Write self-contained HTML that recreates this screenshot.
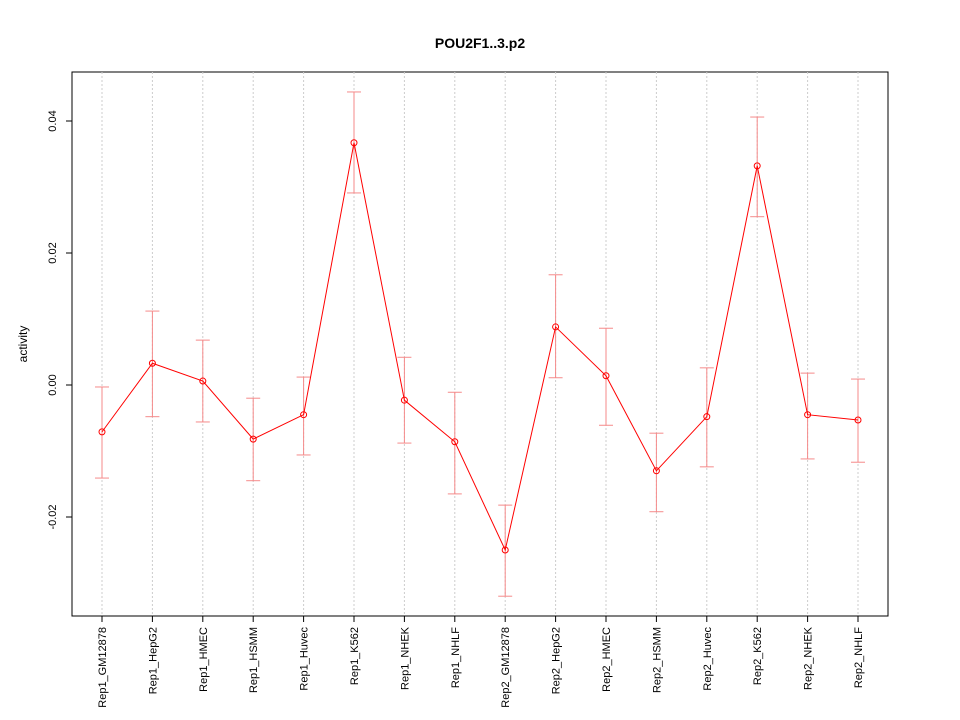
<!DOCTYPE html>
<html><head><meta charset="utf-8"><style>
body{margin:0;background:#fff;}
svg{display:block;font-family:"Liberation Sans",sans-serif;}
</style></head><body>
<svg id="chart" width="960" height="720">
<rect x="0" y="0" width="960" height="720" fill="#fff"/>
<text x="480" y="48" text-anchor="middle" font-size="14" font-weight="bold">POU2F1..3.p2</text>
<text transform="translate(27,344) rotate(-90)" text-anchor="middle" font-size="12">activity</text>
<rect x="72" y="72" width="816" height="544" fill="none" stroke="#000"/>
<g id="grid"></g><g id="yaxis"></g><g id="xaxis"></g><g id="bars"></g><g id="series"></g>
</svg>
<script>
const categories=["Rep1_GM12878","Rep1_HepG2","Rep1_HMEC","Rep1_HSMM","Rep1_Huvec","Rep1_K562","Rep1_NHEK","Rep1_NHLF","Rep2_GM12878","Rep2_HepG2","Rep2_HMEC","Rep2_HSMM","Rep2_Huvec","Rep2_K562","Rep2_NHEK","Rep2_NHLF"];
const values=[-0.0071,0.0033,0.0006,-0.0082,-0.0045,0.0367,-0.0023,-0.0086,-0.025,0.0088,0.0014,-0.013,-0.0048,0.0332,-0.0045,-0.0053];
const upper=[-0.0003,0.0112,0.0068,-0.002,0.0012,0.0444,0.0042,-0.0011,-0.0182,0.0167,0.0086,-0.0073,0.0026,0.0406,0.0018,0.0009];
const lower=[-0.0141,-0.0048,-0.0056,-0.0145,-0.0106,0.0291,-0.0088,-0.0165,-0.032,0.0011,-0.0061,-0.0192,-0.0124,0.0255,-0.0112,-0.0117];
const yTicks=[-0.02,0,0.02,0.04];
const yTickLabels=["-0.02","0.00","0.02","0.04"];
const NS="http://www.w3.org/2000/svg";
function xs(i){return 102+i*(858-102)/(categories.length-1);}
function ys(v){return 385-v*6600;}
function mk(tag,attrs,parent,text){const e=document.createElementNS(NS,tag);for(const k in attrs)e.setAttribute(k,attrs[k]);if(text!==undefined)e.textContent=text;document.getElementById(parent).appendChild(e);return e;}
yTicks.forEach((t,i)=>{
  const y=ys(t);
  const l=mk('line',{x1:66,x2:72,y1:y,y2:y,stroke:'#000'},'yaxis');
  
  
  const tx=mk('text',{transform:`translate(56,${y}) rotate(-90)`,'text-anchor':'middle','font-size':11},'yaxis',yTickLabels[i]);
  
  
});
categories.forEach((c,i)=>{
  const x=xs(i);
  const g=mk('line',{x1:x,x2:x,y1:72,y2:616,stroke:'#ccc','stroke-dasharray':'2,2'},'grid');
  
  
  const t=mk('line',{x1:x,x2:x,y1:616,y2:622,stroke:'#000'},'xaxis');
  
  
  const tx=mk('text',{transform:`translate(${x+4},627) rotate(-90)`,'text-anchor':'end','font-size':11},'xaxis',c);
  
  
  const yu=ys(upper[i]),yl=ys(lower[i]);
  const b=mk('line',{x1:x,x2:x,y1:yu,y2:yl,stroke:'#f58a8a'},'bars');
  
  
  const cu=mk('line',{x1:x-7,x2:x+7,y1:yu,y2:yu,stroke:'#f58a8a'},'bars');
  
  
  const cl=mk('line',{x1:x-7,x2:x+7,y1:yl,y2:yl,stroke:'#f58a8a'},'bars');
  
  
});
const pts=values.map((v,i)=>xs(i)+','+ys(v)).join(' ');
const pl=mk('polyline',{points:pts,fill:'none',stroke:'#f00'},'series');


values.forEach((v,i)=>{
  const c=mk('circle',{cx:xs(i),cy:ys(v),r:3,fill:'none',stroke:'#f00'},'series');
  
  
});
</script>
</body></html>
